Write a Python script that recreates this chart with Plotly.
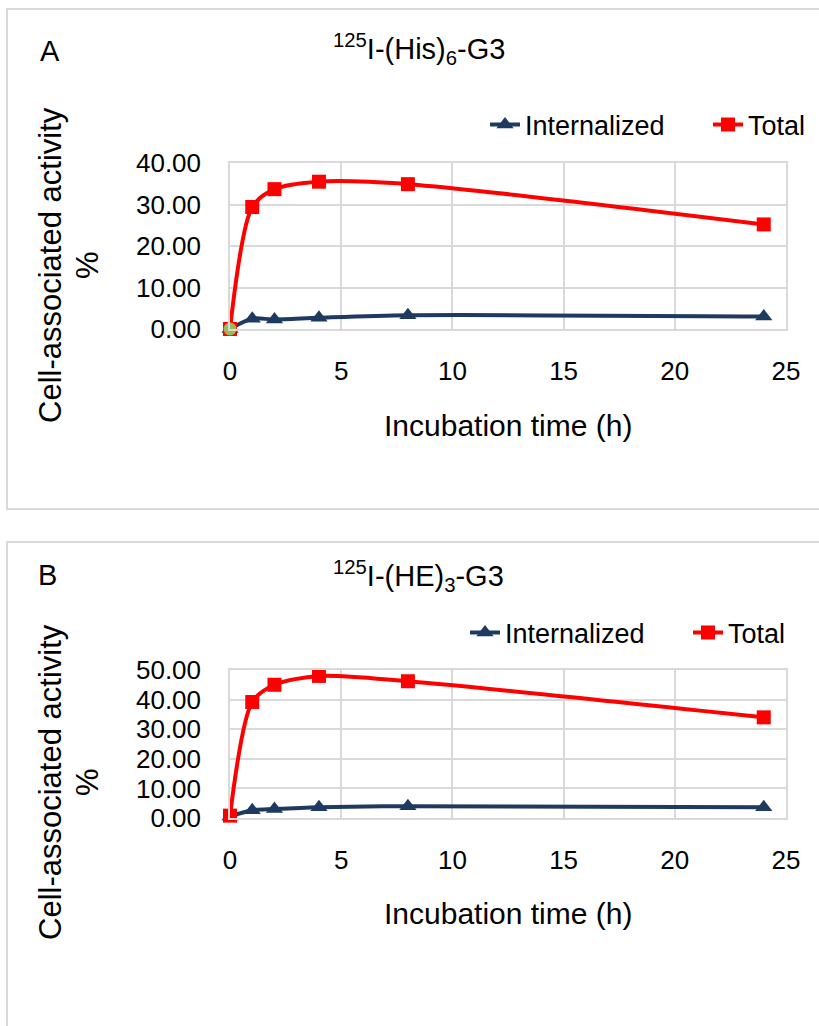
import plotly.graph_objects as go

W, H = 819, 1026

# ---- data ----
time_h = [0, 1, 2, 4, 8, 24]
a_internalized = [0.0, 2.5, 2.3, 2.7, 3.3, 3.0]
a_total = [0.0, 29.4, 33.7, 35.5, 34.9, 25.2]
a_extra_x = [0]
a_extra_y = [0.0]
b_internalized = [0.5, 2.6, 3.0, 3.6, 4.0, 3.6]
b_total = [0.8, 39.2, 45.0, 48.0, 46.2, 34.0]

panel_letters = ["A", "B"]
panel_titles = ["<sup>125</sup>I-(His)<sub>6</sub>-G3", "<sup>125</sup>I-(HE)<sub>3</sub>-G3"]
x_ticks = [0, 5, 10, 15, 20, 25]
a_y_ticks = [0, 10, 20, 30, 40]
b_y_ticks = [0, 10, 20, 30, 40, 50]

NAVY = "#1F3A60"
RED = "#FF0000"
GREEN = "#9BBB59"
GRID = "#D9D9D9"
FONT = "Liberation Sans, Arial, sans-serif"


def px(x):
    return x / W


def py(y):
    return 1 - y / H


fig = go.Figure()

# Panel A
fig.add_trace(go.Scatter(x=time_h, y=a_internalized, name="Internalized", mode="lines+markers",
                         line=dict(color=NAVY, width=4, shape="spline", smoothing=0.8),
                         marker=dict(symbol="triangle-up", size=15, color=NAVY),
                         xaxis="x", yaxis="y", legend="legend", cliponaxis=False))
fig.add_trace(go.Scatter(x=time_h, y=a_total, name="Total", mode="lines+markers",
                         line=dict(color=RED, width=4, shape="spline", smoothing=0.8),
                         marker=dict(symbol="square", size=14, color=RED),
                         xaxis="x", yaxis="y", legend="legend2", cliponaxis=False))
fig.add_trace(go.Scatter(x=a_extra_x, y=a_extra_y, mode="markers", showlegend=False,
                         marker=dict(symbol="circle", size=13, color=GREEN),
                         xaxis="x", yaxis="y", cliponaxis=False))

# Panel B
fig.add_trace(go.Scatter(x=time_h, y=b_internalized, name="Internalized", mode="lines+markers",
                         line=dict(color=NAVY, width=4, shape="spline", smoothing=0.8),
                         marker=dict(symbol="triangle-up", size=15, color=NAVY),
                         xaxis="x2", yaxis="y2", legend="legend3", cliponaxis=False))
fig.add_trace(go.Scatter(x=time_h, y=b_total, name="Total", mode="lines+markers",
                         line=dict(color=RED, width=4, shape="spline", smoothing=0.8),
                         marker=dict(symbol="square", size=14, color=RED),
                         xaxis="x2", yaxis="y2", legend="legend4", cliponaxis=False))

plot_left, plot_right = 230, 786
panels = [
    dict(top=163, bottom=329, yt=a_y_ticks),
    dict(top=670, bottom=818, yt=b_y_ticks),
]

axis_common = dict(showgrid=True, gridcolor=GRID, gridwidth=1.5, showline=True,
                   linecolor=GRID, linewidth=1.5, mirror=True, zeroline=False,
                   tickfont=dict(family=FONT, size=26, color="black"), ticks="")

layout = dict(
    width=W, height=H, margin=dict(l=0, r=0, t=0, b=0, autoexpand=False),
    paper_bgcolor="white", plot_bgcolor="white",
    font=dict(family=FONT, color="black"),
)

for i, p in enumerate(panels):
    sx = "" if i == 0 else str(i + 1)
    layout["xaxis" + sx] = dict(axis_common, domain=[px(plot_left), px(plot_right)],
                                range=[0, 25], tickvals=x_ticks, anchor="y" + sx,
                                ticklabelstandoff=18)
    layout["yaxis" + sx] = dict(axis_common, domain=[py(p["bottom"]), py(p["top"])],
                                range=[0, p["yt"][-1]], tickvals=p["yt"], tickformat=".2f",
                                anchor="x" + sx, ticklabelstandoff=22)

legend_common = dict(orientation="h", xanchor="left", yanchor="middle",
                     xref="container", yref="container",
                     font=dict(family=FONT, size=27), bgcolor="rgba(0,0,0,0)",
                     itemwidth=30)
layout["legend"] = dict(legend_common, x=px(485), y=py(125))
layout["legend2"] = dict(legend_common, x=px(708), y=py(125))
layout["legend3"] = dict(legend_common, x=px(465), y=py(633))
layout["legend4"] = dict(legend_common, x=px(688), y=py(633))

fig.update_layout(**layout)

ann = []
letter_pos = [(50, 51), (47, 575)]
title_pos = [(419, 49), (419, 576)]
ytitle_y = [265, 782]
xtitle_y = [425, 913]
for i in range(2):
    ann.append(dict(text=panel_letters[i], x=px(letter_pos[i][0]), y=py(letter_pos[i][1]),
                    xref="paper", yref="paper", showarrow=False, xanchor="center", yanchor="middle",
                    font=dict(family=FONT, size=29)))
    ann.append(dict(text=panel_titles[i], x=px(title_pos[i][0]), y=py(title_pos[i][1]),
                    xref="paper", yref="paper", showarrow=False, xanchor="center", yanchor="middle",
                    font=dict(family=FONT, size=29)))
    ann.append(dict(text="Cell-associated activity", x=px(50), y=py(ytitle_y[i]), textangle=-90,
                    xref="paper", yref="paper", showarrow=False, xanchor="center", yanchor="middle",
                    font=dict(family=FONT, size=31)))
    ann.append(dict(text="%", x=px(87), y=py(ytitle_y[i]), textangle=-90,
                    xref="paper", yref="paper", showarrow=False, xanchor="center", yanchor="middle",
                    font=dict(family=FONT, size=31)))
    ann.append(dict(text="Incubation time (h)", x=px((plot_left + plot_right) / 2), y=py(xtitle_y[i]),
                    xref="paper", yref="paper", showarrow=False, xanchor="center", yanchor="middle",
                    font=dict(family=FONT, size=30)))
fig.update_layout(annotations=ann)

shapes = [
    dict(type="rect", xref="paper", yref="paper", x0=px(7), x1=px(840), y0=py(509), y1=py(9),
         line=dict(color=GRID, width=2), layer="below"),
    dict(type="rect", xref="paper", yref="paper", x0=px(7), x1=px(840), y0=py(1060), y1=py(542),
         line=dict(color=GRID, width=2), layer="below"),
]
fig.update_layout(shapes=shapes)

fig.write_html("out.html", config={"displayModeBar": False},
               post_script="document.body.style.margin='0';")
